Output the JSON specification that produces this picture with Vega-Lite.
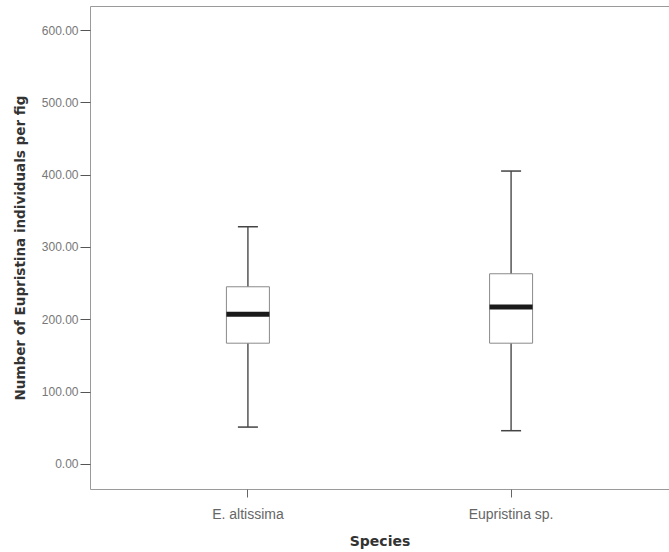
{
  "$schema": "https://vega.github.io/schema/vega-lite/v6.json",
  "width": 579,
  "height": 483,
  "autosize": "none",
  "padding": {"left": 90, "top": 6, "right": 0, "bottom": 63},
  "background": "white",
  "config": {
    "view": {"stroke": "#9a9a9a", "strokeWidth": 1},
    "axis": {"grid": false, "domain": false}
  },
  "data": {
    "values": [
      {"species": "E. altissima", "min": 51, "q1": 167, "median": 207, "q3": 245, "max": 328},
      {"species": "Eupristina sp.", "min": 46, "q1": 167, "median": 217, "q3": 263, "max": 405}
    ]
  },
  "encoding": {
    "x": {
      "field": "species",
      "type": "nominal",
      "sort": null,
      "scale": {"paddingInner": 0, "paddingOuter": 0.1},
      "axis": {
        "title": "Species",
        "labelAngle": 0,
        "labelFont": "Liberation Sans",
        "labelFontSize": 14,
        "labelColor": "#666666",
        "labelPadding": 10,
        "tickSize": 8,
        "tickColor": "#666666",
        "titleFont": "DejaVu Sans",
        "titleFontSize": 14,
        "titleFontWeight": "bold",
        "titleColor": "#333333",
        "titlePadding": 13
      }
    }
  },
  "layer": [
    {
      "mark": {"type": "rule", "color": "#555555", "strokeWidth": 1.5},
      "encoding": {
        "y": {
          "field": "min",
          "type": "quantitative",
          "scale": {"domain": [-34.6, 633.2], "nice": false, "zero": false},
          "axis": {
            "title": "Number of Eupristina individuals per fig",
            "values": [0, 100, 200, 300, 400, 500, 600],
            "format": ".2f",
            "labelFont": "Liberation Sans",
            "labelFontSize": 12,
            "labelColor": "#777777",
            "labelPadding": 2,
            "tickSize": 10,
            "tickColor": "#555555",
            "titleFont": "DejaVu Sans",
            "titleFontSize": 13.5,
            "titleFontWeight": "bold",
            "titleColor": "#333333",
            "titlePadding": 14
          }
        },
        "y2": {"field": "max"}
      }
    },
    {
      "mark": {"type": "bar", "size": 43, "fill": "white", "stroke": "#8a8a8a", "strokeWidth": 1},
      "encoding": {
        "y": {"field": "q1", "type": "quantitative"},
        "y2": {"field": "q3"}
      }
    },
    {
      "mark": {"type": "tick", "size": 43, "thickness": 5, "color": "#1a1a1a", "opacity": 1},
      "encoding": {
        "y": {"field": "median", "type": "quantitative"}
      }
    },
    {
      "mark": {"type": "tick", "size": 20, "thickness": 1.5, "color": "#444444", "opacity": 1},
      "encoding": {
        "y": {"field": "min", "type": "quantitative"}
      }
    },
    {
      "mark": {"type": "tick", "size": 20, "thickness": 1.5, "color": "#444444", "opacity": 1},
      "encoding": {
        "y": {"field": "max", "type": "quantitative"}
      }
    }
  ]
}
